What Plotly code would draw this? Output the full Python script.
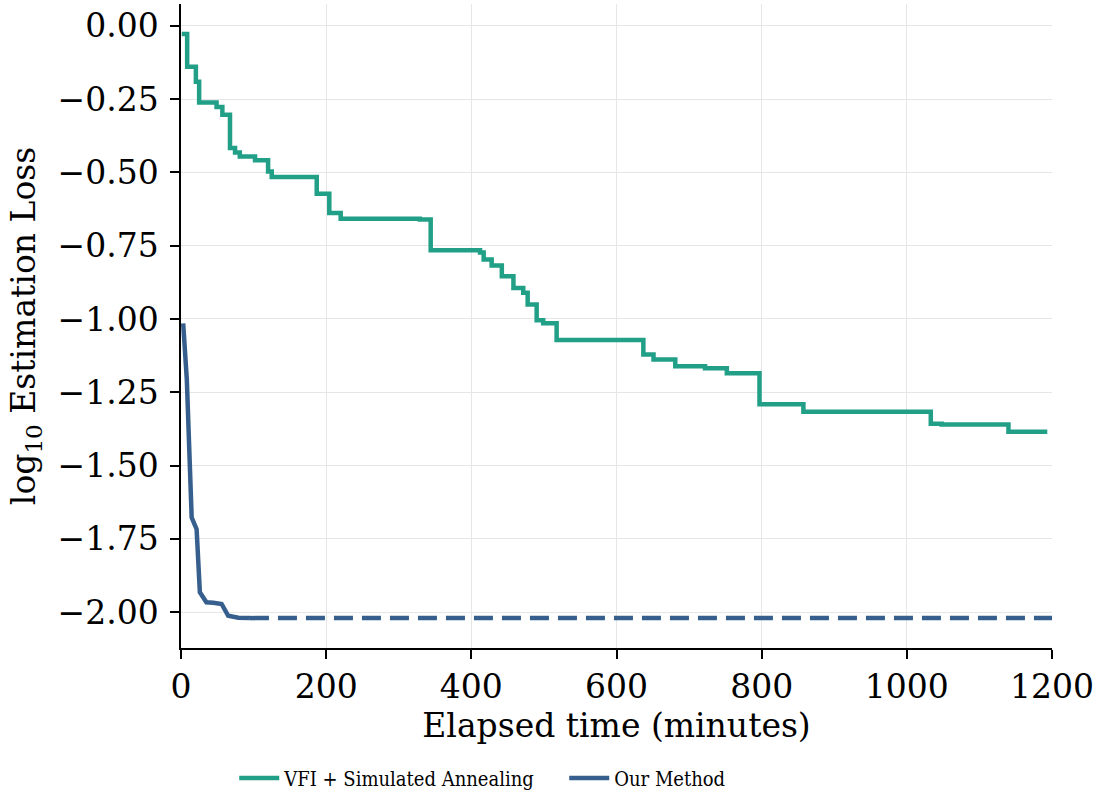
import plotly.graph_objects as go

# VFI + Simulated Annealing (step curve)
sa_time = [1, 8.5, 20.5, 25, 49, 57, 67.5, 74.5, 81, 102, 120, 125, 187, 204.3, 220, 329, 344,
           412, 417, 428, 442, 458, 471.5, 477.6, 490, 499, 517.5, 637, 651, 681, 722, 752,
           797, 857.5, 1033, 1048, 1140, 1193.5]
sa_loss = [-0.028, -0.140, -0.191, -0.262, -0.277, -0.304, -0.417, -0.432, -0.446, -0.459,
           -0.497, -0.516, -0.573, -0.639, -0.658, -0.661, -0.766,
           -0.773, -0.797, -0.818, -0.854, -0.894, -0.911, -0.951, -1.004, -1.015, -1.072,
           -1.121, -1.138, -1.161, -1.168, -1.185, -1.291, -1.316, -1.357, -1.360, -1.385, -1.385]

# Our Method
our_time = [3, 8, 14.7, 21.5, 26, 35, 44.5, 56, 65, 79, 95]
our_loss = [-1.015, -1.206, -1.677, -1.717, -1.932, -1.966, -1.968, -1.972, -2.012, -2.019, -2.020]
our_ext_time = [95, 1200]
our_ext_loss = [-2.020, -2.020]

x_ticks = [0, 200, 400, 600, 800, 1000, 1200]
y_ticks = [0.0, -0.25, -0.5, -0.75, -1.0, -1.25, -1.5, -1.75, -2.0]

GREEN = "#21a087"
BLUE = "#375f8d"
FONT = "DejaVu Serif"

fig = go.Figure()
fig.add_trace(go.Scatter(x=sa_time, y=sa_loss, mode="lines", line_shape="hv",
                         line=dict(color=GREEN, width=4.5), name="VFI + Simulated Annealing"))
fig.add_trace(go.Scatter(x=our_time, y=our_loss, mode="lines",
                         line=dict(color=BLUE, width=4.5), name="Our Method"))
fig.add_trace(go.Scatter(x=our_ext_time, y=our_ext_loss, mode="lines", showlegend=False,
                         line=dict(color=BLUE, width=4.5, dash="19px,9px")))

fig.update_layout(
    width=1104, height=800,
    margin=dict(l=181, r=52, t=4, b=151),
    paper_bgcolor="white", plot_bgcolor="white",
    font=dict(family=FONT, color="black", size=33),
    legend=dict(orientation="h", x=0.44, xanchor="center", y=-0.2, yanchor="middle",
                font=dict(family="DejaVu Serif Condensed, DejaVu Serif", size=20),
                entrywidth=275, itemwidth=40),
    showlegend=True,
)
fig.update_xaxes(range=[0, 1200], tickvals=x_ticks, ticktext=[str(v) for v in x_ticks],
                 showline=True, linecolor="black", linewidth=1.5, mirror=False,
                 ticks="outside", ticklen=9, tickwidth=1.5, tickcolor="black",
                 showgrid=True, gridcolor="#e6e6e6", gridwidth=1, zeroline=False,
                 title=dict(text="Elapsed time (minutes)", font=dict(size=33), standoff=6),
                 tickfont=dict(size=33))
fig.update_yaxes(range=[-2.122, 0.074], tickvals=y_ticks, tickformat=".2f",
                 showline=True, linecolor="black", linewidth=1.5, mirror=False,
                 ticks="outside", ticklen=9, tickwidth=1.5, tickcolor="black",
                 ticklabelstandoff=5,
                 showgrid=True, gridcolor="#e6e6e6", gridwidth=1, zeroline=False,
                 title=dict(text="log<sub>10</sub> Estimation Loss", font=dict(size=33), standoff=12),
                 tickfont=dict(size=33))

fig.write_html("out.html")
